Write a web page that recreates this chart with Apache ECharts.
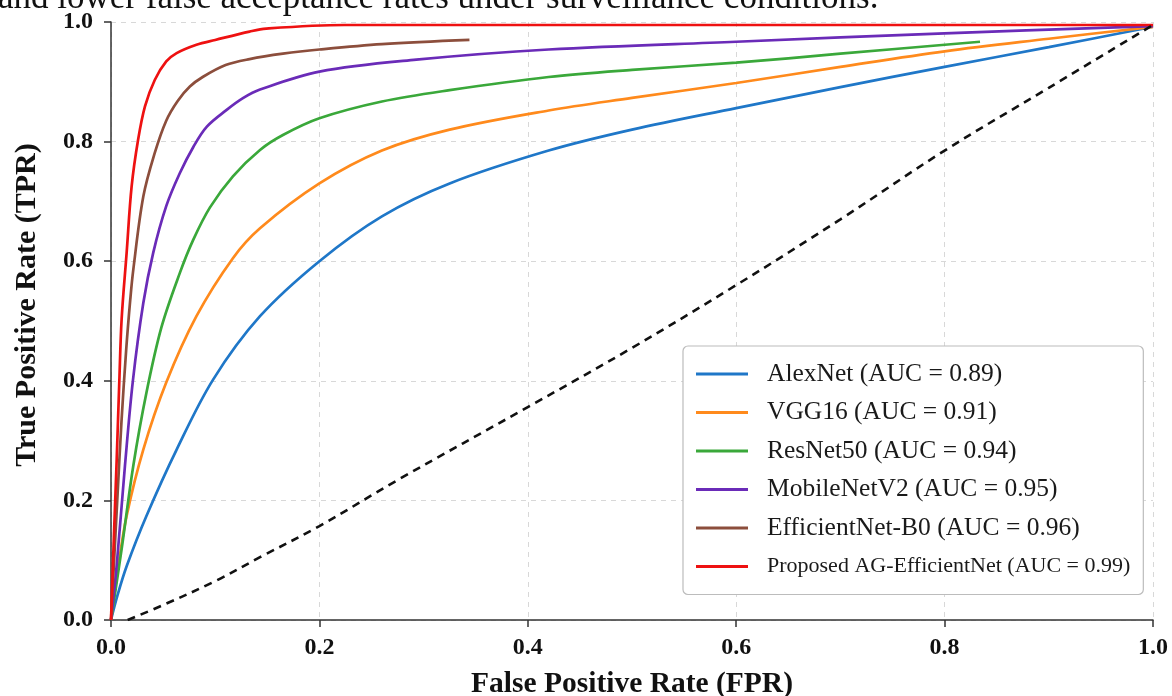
<!DOCTYPE html>
<html>
<head>
<meta charset="utf-8">
<script src="https://cdn.jsdelivr.net/npm/echarts@6/dist/echarts.min.js"></script>
<style>
html,body{margin:0;padding:0;background:#fff;}
#chart{width:1172px;height:696px;}
</style>
</head>
<body>
<div id="chart"></div>
<script>
// ---- data (FPR, TPR) ----
const captionText = 'and lower false acceptance rates under surveillance conditions.';
const xTicks = [0, 0.2, 0.4, 0.6, 0.8, 1.0];
const yTicks = [0, 0.2, 0.4, 0.6, 0.8, 1.0];
const seriesNames = [
  'AlexNet (AUC = 0.89)',
  'VGG16 (AUC = 0.91)',
  'ResNet50 (AUC = 0.94)',
  'MobileNetV2 (AUC = 0.95)',
  'EfficientNet-B0 (AUC = 0.96)',
  'Proposed AG-EfficientNet (AUC = 0.99)'
];
const alexnet = [[0,0],[0.006,0.04],[0.015,0.09],[0.034,0.174],[0.063,0.285],[0.098,0.402],[0.143,0.508],[0.2,0.6],[0.26,0.675],[0.325,0.73],[0.42,0.785],[0.5,0.82],[0.6,0.856],[0.7,0.891],[0.8,0.925],[0.9,0.958],[1.0,0.992]];
const vgg16 = [[0,0],[0.007,0.09],[0.015,0.174],[0.031,0.285],[0.053,0.397],[0.082,0.508],[0.117,0.605],[0.143,0.655],[0.2,0.73],[0.26,0.785],[0.325,0.82],[0.42,0.852],[0.5,0.873],[0.6,0.898],[0.7,0.925],[0.8,0.951],[0.9,0.972],[1.0,0.992]];
const resnet50 = [[0,0],[0.0102,0.1185],[0.0214,0.258],[0.034,0.38],[0.0485,0.49],[0.066,0.58],[0.079,0.636],[0.095,0.69],[0.117,0.742],[0.143,0.786],[0.165,0.811],[0.2,0.839],[0.26,0.867],[0.325,0.886],[0.42,0.908],[0.5,0.92],[0.6,0.932],[0.7,0.947],[0.834,0.967]];
const mobilenetv2 = [[0,0],[0.0054,0.09],[0.0134,0.258],[0.021,0.4],[0.031,0.53],[0.0405,0.614],[0.053,0.692],[0.066,0.747],[0.079,0.791],[0.092,0.825],[0.111,0.853],[0.127,0.873],[0.143,0.887],[0.2,0.917],[0.293,0.937],[0.42,0.954],[0.6,0.967],[0.8,0.981],[1.0,0.993]];
const efficientnetb0 = [[0,0],[0.003,0.1],[0.006,0.2],[0.01,0.33],[0.0145,0.45],[0.0185,0.536],[0.0214,0.586],[0.031,0.708],[0.042,0.781],[0.053,0.835],[0.064,0.868],[0.0757,0.892],[0.088,0.908],[0.11,0.928],[0.133,0.938],[0.165,0.947],[0.2,0.954],[0.26,0.963],[0.344,0.97]];
const proposed = [[0,0],[0.003,0.15],[0.0055,0.27],[0.008,0.4],[0.0102,0.503],[0.015,0.614],[0.0198,0.725],[0.026,0.803],[0.0326,0.859],[0.042,0.903],[0.053,0.934],[0.063,0.948],[0.082,0.962],[0.1,0.97],[0.133,0.984],[0.149,0.989],[0.224,0.995],[1.0,0.995]];
const chance = [[0.016,0],[0.05,0.025],[0.1,0.065],[0.143,0.105],[0.2,0.157],[0.275,0.234],[0.4,0.356],[0.5,0.455],[0.6,0.56],[0.7,0.67],[0.8,0.785],[0.9,0.89],[1.0,0.995]];

const colors = ['#1f77c8','#ff8a1c','#3aa83a','#6a2bb8','#8c4e3c','#ee1111'];
const serif = "'Liberation Serif','Times New Roman',serif";

const chart = echarts.init(document.getElementById('chart'), null, {renderer:'canvas'});
const curveData = [alexnet, vgg16, resnet50, mobilenetv2, efficientnetb0, proposed];

const series = curveData.map((d, i) => ({
  name: seriesNames[i],
  type: 'line',
  data: d,
  symbol: 'none',
  smooth: 0.35,
  lineStyle: {color: colors[i], width: 2.7},
  itemStyle: {color: colors[i]},
  z: 3 + i,
  animation: false
}));
series.push({
  name: 'chance',
  type: 'line',
  data: chance,
  symbol: 'none',
  smooth: 0.35,
  lineStyle: {color: '#111', width: 2.6, type: [8, 6]},
  z: 10,
  animation: false
});

const option = {
  backgroundColor: '#ffffff',
  animation: false,
  grid: {left: 111, right: 19, top: 22, bottom: 76, containLabel: false, outerBoundsMode: 'none'},
  graphic: [{
    type: 'text',
    left: -2,
    top: -19,
    style: {text: captionText, font: "35px 'Liberation Serif'", fill: '#111'}
  }],
  legend: {
    orient: 'vertical',
    left: 683,
    top: 346,
    padding: [14, 13, 14, 13],
    itemGap: 10.5,
    itemWidth: 52,
    itemHeight: 3,
    icon: 'rect',
    backgroundColor: '#fff',
    borderColor: '#bcbcbc',
    borderWidth: 1.2,
    borderRadius: 5,
    textStyle: {fontFamily: serif, fontSize: 25.5, color: '#1a1a1a', lineHeight: 28, padding: [0, 0, 0, 14]},
    data: seriesNames.map((n, i) => i === 5
      ? {name: n, textStyle: {fontSize: 22, lineHeight: 28}}
      : {name: n})
  },
  xAxis: {
    type: 'value',
    min: 0, max: 1, interval: 0.2,
    name: 'False Positive Rate (FPR)',
    nameLocation: 'middle',
    nameGap: 49,
    nameTextStyle: {fontFamily: serif, fontSize: 29.5, fontWeight: 'bold', color: '#111'},
    axisLine: {show: true, onZero: false, lineStyle: {color: '#333', width: 1.5}},
    axisTick: {show: true, length: 7, lineStyle: {color: '#333', width: 1.5}},
    axisLabel: {fontFamily: serif, fontSize: 24, fontWeight: 'bold', color: '#111', margin: 16,
      formatter: v => v.toFixed(1)},
    splitLine: {show: true, lineStyle: {color: '#d8d8d8', type: [5, 5], width: 1}}
  },
  yAxis: {
    type: 'value',
    min: 0, max: 1, interval: 0.2,
    name: 'True Positive Rate (TPR)',
    nameLocation: 'middle',
    nameGap: 69,
    nameTextStyle: {fontFamily: serif, fontSize: 30, fontWeight: 'bold', color: '#111', padding: [0, 0, 0, 32]},
    axisLine: {show: true, onZero: false, lineStyle: {color: '#333', width: 1.5}},
    axisTick: {show: true, length: 7, lineStyle: {color: '#333', width: 1.5}},
    axisLabel: {fontFamily: serif, fontSize: 24, fontWeight: 'bold', color: '#111', margin: 18,
      formatter: v => v.toFixed(1)},
    splitLine: {show: true, lineStyle: {color: '#d8d8d8', type: [5, 5], width: 1}}
  },
  series: series
};
chart.setOption(option);
</script>
</body>
</html>
